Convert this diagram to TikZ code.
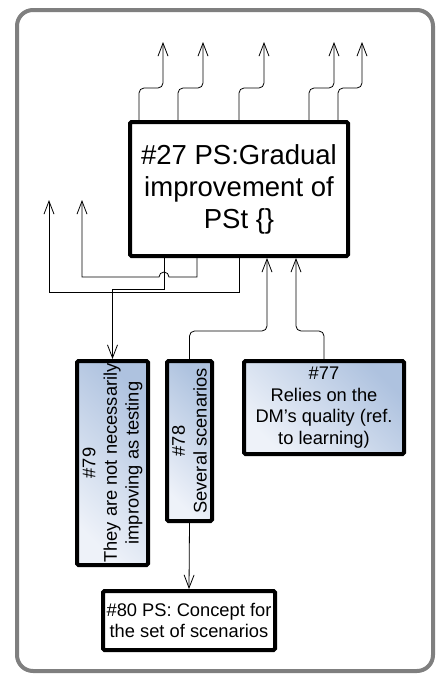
\documentclass[tikz,border=0pt]{standalone}
\usepackage{fontspec}
\setmainfont{Liberation Sans}
\usetikzlibrary{arrows.meta,calc}
\definecolor{bdark}{HTML}{AEC2DF}
\definecolor{blight}{HTML}{EEF2F9}
\definecolor{framegray}{HTML}{7F7F7F}
\tikzset{
  bigbox/.style={draw=black, line width=4pt, fill=white, rounded corners=1.5pt, inner sep=0pt, align=center,
    font=\fontsize{27.5}{32}\selectfont},
  bluebox/.style={draw=black, line width=4pt, rounded corners=1.5pt, inner sep=0pt,
    shading=axis, top color=bdark, bottom color=blight, shading angle=-45},
  whitebox/.style={draw=black, line width=4pt, fill=white, rounded corners=1.5pt, inner sep=0pt, align=center,
    font=\fontsize{18.3}{21.7}\selectfont},
  boxtext/.style={align=center, inner sep=0pt, font=\fontsize{18.3}{21.7}\selectfont},
  conn/.style={draw=black, line width=0.8pt},
  arr/.style={conn, -{Straight Barb[length=13pt,width=10pt,line width=0.8pt]}},
}
\begin{document}
\begin{tikzpicture}[x=1pt,y=-1pt]
\useasboundingbox (0,0) rectangle (437,675);
\draw[framegray, line width=4pt, fill=white, rounded corners=16pt] (17,10) rectangle (433,671);

% nodes
\node[bigbox, minimum width=218pt, minimum height=134pt] (m) at (239,189) {\#27 PS:Gradual\\improvement of\\PSt \{\}};
\node[bluebox, minimum width=71pt, minimum height=204pt] (n79) at (112.5,463) {};
\node[boxtext, rotate=90] (t79) at (n79.center) {\#79\\They are not necessarily\\improving as testing};
\node[bluebox, minimum width=45pt, minimum height=160pt] (n78) at (189.5,441) {};
\node[boxtext, rotate=90] (t78) at (n78.center) {\#78\\Several scenarios};
\node[bluebox, minimum width=160pt, minimum height=93pt] (n77) at (324,407.5) {};
\node[boxtext] (t77) at (n77.center) {\#77\\Relies on the\\DM’s quality (ref.\\to learning)};
\node[whitebox, minimum width=172pt, minimum height=59pt] (n80) at (189,620.5) {\#80 PS: Concept for\\the set of scenarios};

% free ends
\coordinate (u1) at (163,42);
\coordinate (u2) at (203,42);
\coordinate (u3) at (264,42);
\coordinate (u4) at (334,42);
\coordinate (u5) at (362,42);
\coordinate (l1) at (49,200);
\coordinate (l2) at (82,200);

% top arrows
\draw[arr, rounded corners=5pt] ([xshift=-100pt]m.north) -- ++(0,-32) -| (u1);
\draw[arr, rounded corners=5pt] ([xshift=-61pt]m.north) -- ++(0,-32) -| (u2);
\draw[arr, rounded corners=5pt] (m.north) -- ++(0,-32) -| (u3);
\draw[arr, rounded corners=5pt] ([xshift=70pt]m.north) -- ++(0,-32) -| (u4);
\draw[arr, rounded corners=5pt] ([xshift=99pt]m.north) -- ++(0,-32) -| (u5);

% left arrows
\draw[arr] (m.south) -- (239,292) -| (l1);
\draw[arr] ([xshift=-42pt]m.south) -- (197,277) -- (169,277) arc[start angle=0, end angle=180, radius=5pt] -- (82,277) -- (l2);
\draw[arr] ([xshift=-75pt]m.south) -- (164,289) -| (n79.north);

% bottom arrows
\draw[arr, rounded corners=5pt] (n78.north) -- (189.5,331) -| ([xshift=28pt]m.south);
\draw[arr, rounded corners=5pt] (n77.north) -- (324,331) -| ([xshift=57pt]m.south);
\draw[arr] (n78.south) -- (n80.north);
\end{tikzpicture}
\end{document}
